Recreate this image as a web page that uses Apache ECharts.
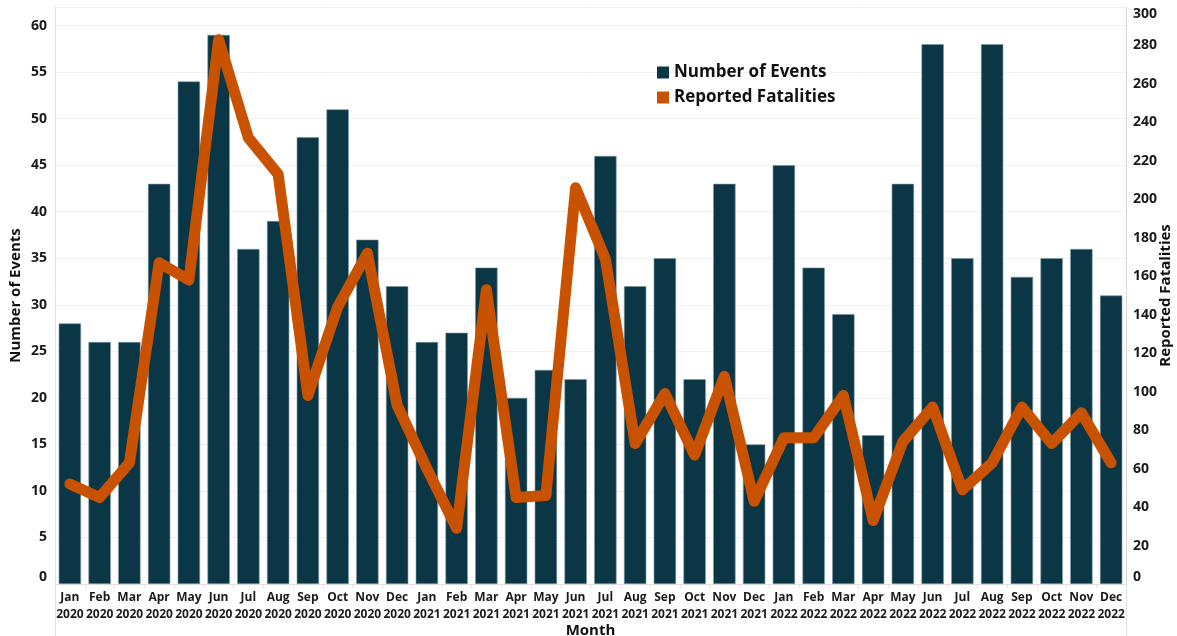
<!DOCTYPE html>
<html style="height: 100%">
<head>
    <meta charset="utf-8">
</head>
<body style="height: 100%; margin: 0">
    <div id="container" style="width: 1177px; height: 636px"></div>
    <script type="text/javascript" src="https://cdn.jsdelivr.net/npm/echarts/dist/echarts.min.js"></script>
    <script type="text/javascript">
        var months = ['Jan\n2020', 'Feb\n2020', 'Mar\n2020', 'Apr\n2020', 'May\n2020', 'Jun\n2020',
            'Jul\n2020', 'Aug\n2020', 'Sep\n2020', 'Oct\n2020', 'Nov\n2020', 'Dec\n2020',
            'Jan\n2021', 'Feb\n2021', 'Mar\n2021', 'Apr\n2021', 'May\n2021', 'Jun\n2021',
            'Jul\n2021', 'Aug\n2021', 'Sep\n2021', 'Oct\n2021', 'Nov\n2021', 'Dec\n2021',
            'Jan\n2022', 'Feb\n2022', 'Mar\n2022', 'Apr\n2022', 'May\n2022', 'Jun\n2022',
            'Jul\n2022', 'Aug\n2022', 'Sep\n2022', 'Oct\n2022', 'Nov\n2022', 'Dec\n2022'];
        var events = [28, 26, 26, 43, 54, 59, 36, 39, 48, 51, 37, 32,
            26, 27, 34, 20, 23, 22, 46, 32, 35, 22, 43, 15,
            45, 34, 29, 16, 43, 58, 35, 58, 33, 35, 36, 31];
        var fatalities = [52, 45, 63, 167, 158, 283, 232, 213, 98, 144, 172, 93,
            60, 29, 153, 45, 46, 206, 169, 73, 99, 67, 108, 43,
            76, 76, 98, 33, 74, 92, 49, 63, 92, 73, 89, 63];

        var dom = document.getElementById("container");
        var myChart = echarts.init(dom);
        var font = '"Open Sans", sans-serif';
        var axisText = { color: '#1a1a1a', fontFamily: font, fontWeight: 'bold', fontSize: 14 };

        var option = {
            animation: false,
            grid: { left: 55, right: 51, top: 7, bottom: 52, containLabel: false, outerBoundsMode: 'none' },
            legend: {
                orient: 'vertical',
                left: 652,
                top: 59,
                itemWidth: 12,
                itemHeight: 12,
                itemGap: 8,
                icon: 'rect',
                itemStyle: { borderWidth: 0 },
                textStyle: { color: '#111', fontFamily: font, fontWeight: 'bold', fontSize: 17 },
                data: ['Number of Events', 'Reported Fatalities']
            },
            xAxis: {
                type: 'category',
                data: months,
                name: 'Month',
                nameLocation: 'middle',
                nameGap: 39,
                nameMoveOverlap: false,
                nameTextStyle: { color: '#111', fontFamily: font, fontWeight: 'bold', fontSize: 15 },
                axisLine: { lineStyle: { color: '#e2e2e2' } },
                axisTick: { show: true, length: 4, lineStyle: { color: '#e2e2e2' } },
                axisLabel: {
                    interval: 0, margin: 5, lineHeight: 17,
                    color: '#1a1a1a', fontFamily: font, fontWeight: 'bold', fontSize: 12
                }
            },
            yAxis: [{
                type: 'value',
                min: 0,
                max: 62,
                interval: 5,
                name: 'Number of Events',
                nameLocation: 'middle',
                nameGap: 32,
                nameMoveOverlap: false,
                nameTextStyle: { color: '#111', fontFamily: font, fontWeight: 'bold', fontSize: 15 },
                axisLine: { show: true, lineStyle: { color: '#e2e2e2' } },
                axisTick: { show: false },
                splitLine: { lineStyle: { color: '#f0f0f0' } },
                axisLabel: Object.assign({ margin: 8, showMaxLabel: false, verticalAlignMinLabel: 'bottom' }, axisText)
            }, {
                type: 'value',
                min: 0,
                max: 300,
                interval: 20,
                name: 'Reported Fatalities',
                nameLocation: 'middle',
                nameGap: 32,
                nameMoveOverlap: false,
                nameTextStyle: { color: '#111', fontFamily: font, fontWeight: 'bold', fontSize: 15 },
                axisLine: { show: true, lineStyle: { color: '#d8d8d8' } },
                axisTick: { show: false },
                splitLine: { show: false },
                axisLabel: Object.assign({ margin: 7, verticalAlignMinLabel: 'bottom', verticalAlignMaxLabel: 'top' }, axisText)
            }],
            graphic: [
                { type: 'line', shape: { x1: 55.5, y1: 584, x2: 55.5, y2: 636 }, style: { stroke: '#e2e2e2', lineWidth: 1 } },
                { type: 'line', shape: { x1: 1126.5, y1: 584, x2: 1126.5, y2: 636 }, style: { stroke: '#e2e2e2', lineWidth: 1 } }
            ],
            series: [{
                name: 'Number of Events',
                type: 'bar',
                yAxisIndex: 0,
                barWidth: '75%',
                itemStyle: { color: '#0b3646', borderColor: '#7a969f', borderWidth: 0.6 },
                data: events
            }, {
                name: 'Reported Fatalities',
                type: 'line',
                yAxisIndex: 1,
                symbol: 'none',
                z: 3,
                lineStyle: { color: '#c85200', width: 11, cap: 'round', join: 'round' },
                itemStyle: { color: '#c85200' },
                data: fatalities
            }]
        };
        myChart.setOption(option);
    </script>
</body>
</html>
